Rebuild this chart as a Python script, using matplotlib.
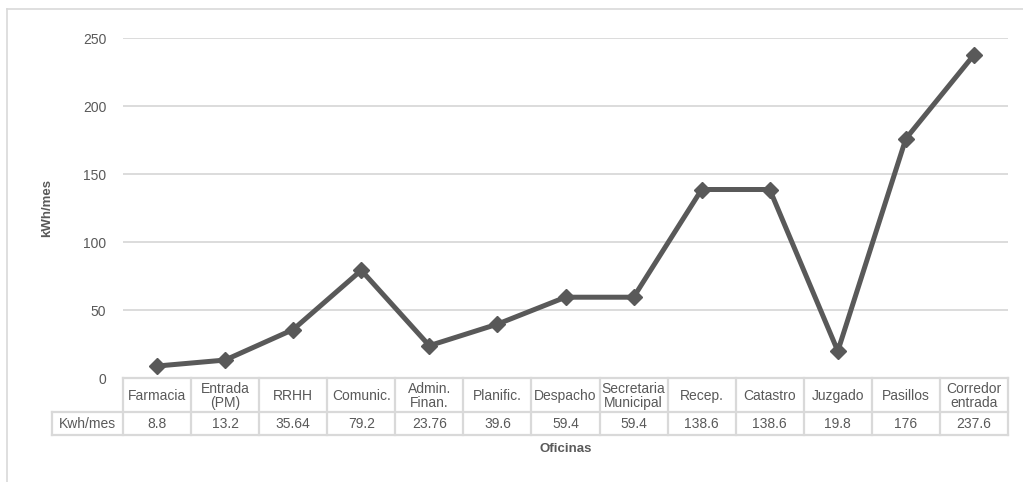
import matplotlib
matplotlib.use("Agg")
import matplotlib.pyplot as plt
from matplotlib.lines import Line2D

plt.rcParams['font.family'] = ['Liberation Sans', 'DejaVu Sans']

oficinas = ["Farmacia", "Entrada\n(PM)", "RRHH", "Comunic.", "Admin.\nFinan.",
            "Planific.", "Despacho", "Secretaria\nMunicipal", "Recep.", "Catastro",
            "Juzgado", "Pasillos", "Corredor\nentrada"]
kwh_mes = [8.8, 13.2, 35.64, 79.2, 23.76, 39.6, 59.4, 59.4, 138.6, 138.6, 19.8, 176, 237.6]
valores_txt = ["8.8", "13.2", "35.64", "79.2", "23.76", "39.6", "59.4", "59.4",
               "138.6", "138.6", "19.8", "176", "237.6"]
y_ticks = [0, 50, 100, 150, 200, 250]
fila_label = "Kwh/mes"

W, H = 1023, 482
TXT = "#595959"
GRID = "#d9d9d9"
FS = 10

fig = plt.figure(figsize=(W / 100, H / 100), dpi=100)

def fx(px):
    return px / W

def fy(py):
    return 1 - py / H

# outer chart frame (left and top edges)
fig.add_artist(Line2D([fx(7), fx(7)], [fy(9), 0], color=GRID, lw=1.2))
fig.add_artist(Line2D([fx(7), 1], [fy(9), fy(9)], color=GRID, lw=1.2))

left, right, top, bottom = 123, 1008, 38, 378
ax = fig.add_axes([fx(left), fy(bottom), fx(right - left), (bottom - top) / H])
n = len(oficinas)
x = list(range(n))
ax.set_xlim(-0.5, n - 0.5)
ax.set_ylim(0, 250)
ax.set_yticks(y_ticks)
ax.yaxis.grid(True, color=GRID, lw=1.3)
ax.set_axisbelow(True)
for s in ax.spines.values():
    s.set_visible(False)
ax.tick_params(axis='y', length=0, pad=12, labelsize=FS, labelcolor=TXT)
ax.set_xticks([])
ax.plot(x, kwh_mes, color=TXT, lw=3.6, marker='D', markersize=8.5,
        markerfacecolor=TXT, markeredgecolor=TXT, clip_on=False, zorder=3)

fig.text(fx(47), fy(208), "kWh/mes", rotation=90, ha='center', va='center',
         fontsize=9.5, fontweight='bold', color=TXT)

# data table below the plot
col_w = (right - left) / n
lab_left = 52
r0, r1, r2 = 378, 412, 435
tab = fig.add_axes([fx(lab_left), fy(r2), fx(right - lab_left), (r2 - r0) / H])
x0 = -0.5 - (left - lab_left) / col_w
tab.set_xlim(x0, n - 0.5)
tab.set_ylim(r2, r0)
tab.axis('off')
lw_t = 1.6
# horizontal lines
tab.plot([-0.5, n - 0.5], [r0, r0], color=GRID, lw=lw_t, clip_on=False)
tab.plot([x0, n - 0.5], [r1, r1], color=GRID, lw=lw_t, clip_on=False)
tab.plot([x0, n - 0.5], [r2, r2], color=GRID, lw=lw_t, clip_on=False)
# vertical lines
tab.plot([x0, x0], [r1, r2], color=GRID, lw=lw_t, clip_on=False)
for i in range(n + 1):
    tab.plot([i - 0.5, i - 0.5], [r0, r2], color=GRID, lw=lw_t, clip_on=False)
for i, (name, val) in enumerate(zip(oficinas, valores_txt)):
    tab.text(i, (r0 + r1) / 2 + 1, name, ha='center', va='center', fontsize=FS,
             color=TXT, linespacing=1.05)
    tab.text(i, (r1 + r2) / 2 + 1, val, ha='center', va='center', fontsize=FS, color=TXT)
tab.text((x0 + -0.5) / 2, (r1 + r2) / 2 + 1, fila_label, ha='center', va='center',
         fontsize=FS, color=TXT)

fig.text(fx(566), fy(449), "Oficinas", ha='center', va='center', fontsize=9.5,
         fontweight='bold', color=TXT)

fig.savefig("out.png", dpi=100, facecolor='white')
